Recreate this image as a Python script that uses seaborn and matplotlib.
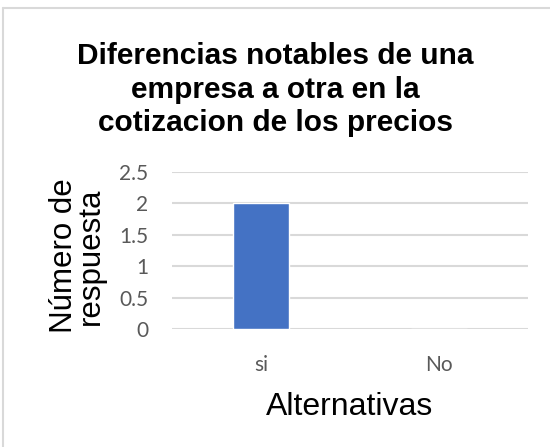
import matplotlib
matplotlib.use("Agg")
import matplotlib.pyplot as plt
from matplotlib.lines import Line2D
import seaborn as sns
import pandas as pd

# Respuestas por alternativa
alternativas = ["si", "No"]
respuestas = [2, 0]
yticks = [0, 0.5, 1, 1.5, 2, 2.5]
ytick_labels = ["0", "0.5", "1", "1.5", "2", "2.5"]

titulo = "Diferencias notables de una\nempresa a otra en la\ncotizacion de los precios"

sns.set_theme(style="white")
plt.rcParams["font.family"] = ["Liberation Sans", "DejaVu Sans"]

df = pd.DataFrame({"Alternativas": alternativas, "Respuestas": respuestas})

fig = plt.figure(figsize=(5.5, 4.47), dpi=100)
fig.patch.set_facecolor("white")
ax = fig.add_axes([0.3127, 0.264, 0.6473, 0.351])

sns.barplot(data=df, x="Alternativas", y="Respuestas", order=alternativas,
            color="#4472C4", saturation=1, width=0.32, ax=ax, zorder=3)

ax.set_ylim(0, 2.5)
ax.set_xlim(-0.5, 1.5)
ax.set_yticks(yticks)
ax.set_yticklabels(ytick_labels)
ax.grid(axis="y", color="#d9d9d9", linewidth=1.5, zorder=0)
ax.grid(axis="x", visible=False)
for side in ["left", "right", "top", "bottom"]:
    ax.spines[side].set_visible(False)
ax.tick_params(axis="both", length=0, colors="#595959", labelsize=15)
ax.tick_params(axis="y", pad=17)
ax.tick_params(axis="x", pad=19)
for lbl in ax.get_xticklabels() + ax.get_yticklabels():
    lbl.set_fontfamily(["Lato", "DejaVu Sans"])

ax.set_xlabel("Alternativas", fontsize=23, color="black", labelpad=12)
ax.set_ylabel("Número de\nrespuesta", fontsize=22.5, color="black", linespacing=0.88)
ax.yaxis.set_label_coords(-0.185, 0.465)

fig.text(0.5, 1 - 42 / 447, titulo, ha="center", va="top", fontsize=21.5,
         fontweight="bold", color="black", linespacing=1.25)

# Marco del gráfico (bordes superior e izquierdo)
fig.add_artist(Line2D([3 / 550, 1], [1 - 8 / 447, 1 - 8 / 447],
                      transform=fig.transFigure, color="#d9d9d9", linewidth=1.5))
fig.add_artist(Line2D([3 / 550, 3 / 550], [0, 1 - 8 / 447],
                      transform=fig.transFigure, color="#d9d9d9", linewidth=1.5))

fig.savefig("out.png", dpi=100, facecolor="white")
